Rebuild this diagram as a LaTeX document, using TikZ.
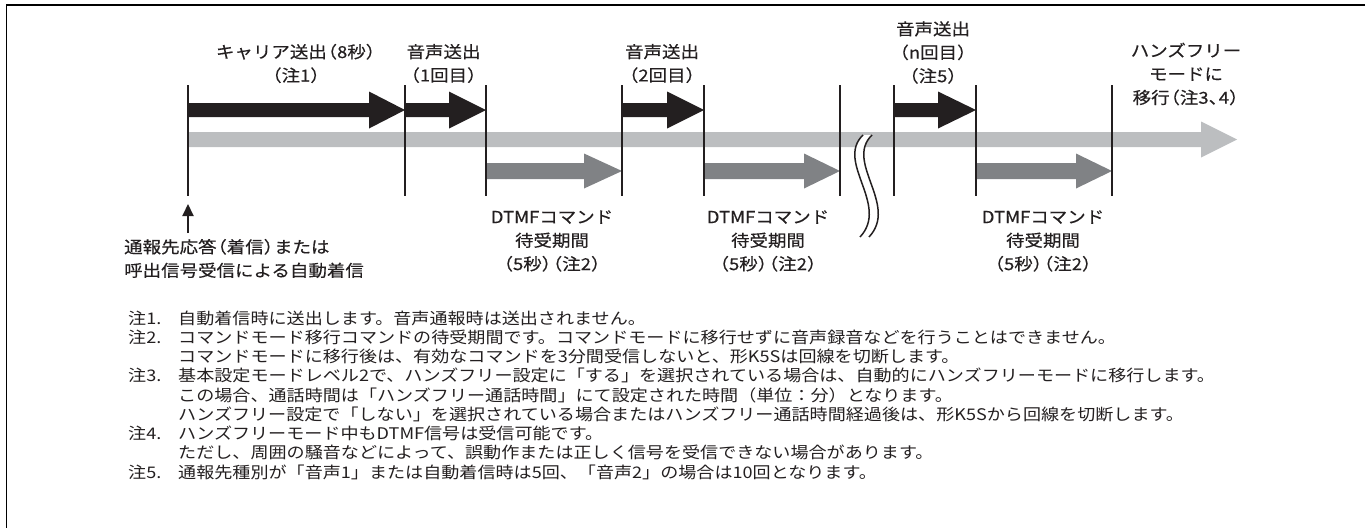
\documentclass[tikz,border=0pt]{standalone}
\usepackage{fontspec}
\setmainfont{Noto Sans CJK JP}
\newfontfamily\lblfont[FakeStretch=1.12,FakeBold=0.4]{Noto Sans CJK JP}
\newfontfamily\notefont[FakeStretch=1.13]{Noto Sans CJK JP}
\usetikzlibrary{arrows.meta}
\definecolor{barblack}{HTML}{231F20}
\definecolor{barlight}{HTML}{BCBEC0}
\definecolor{bardark}{HTML}{808285}
\newcommand\lp{\kern-.5em（}
\newcommand\rp{）\kern-.5em}
% fat arrow: x1 x2 yc shafthalf headhalf headlen colour
\newcommand\fatarrow[7]{%
  \fill[#7] (#1,#3-#4) -- (#2-#6,#3-#4) -- (#2-#6,#3-#5) -- (#2,#3)
     -- (#2-#6,#3+#5) -- (#2-#6,#3+#4) -- (#1,#3+#4) -- cycle;}
\tikzset{
  lbl/.style={font=\lblfont\fontsize{16.5}{23.5}\selectfont, align=center, inner sep=0pt, text=barblack},
  lblleft/.style={font=\lblfont\fontsize{16.5}{23.5}\selectfont, align=left, inner sep=0pt, anchor=west, text=barblack},
  note/.style={font=\notefont\fontsize{16}{19.25}\selectfont, inner sep=0pt, anchor=west, text height=13pt, text depth=3pt, text=barblack},
  tick/.style={draw=barblack, line width=2pt},
  frame/.style={draw=black, line width=1.8pt},
  wave/.style={draw=barblack, line width=1.5pt},
}
\begin{document}
\begin{tikzpicture}[x=1pt,y=-1pt]
\useasboundingbox (0,0) rectangle (1367,528);
% frame (top and left only)
\coordinate (ftr) at (1365,5);
\coordinate (ftl) at (6.5,5);
\coordinate (fbl) at (6.5,528);
\draw[frame] (ftr) -- (ftl) -- (fbl);

% main light bar
\fatarrow{188}{1237}{139.5}{7.5}{18}{36}{barlight}
% black arrows (voice / carrier)
\fatarrow{188}{405}{110}{7}{18.5}{36}{barblack}
\fatarrow{405}{486}{110}{7}{18.5}{37}{barblack}
\fatarrow{622}{704}{110}{7}{18.5}{37}{barblack}
\fatarrow{894}{976}{110}{7}{18.5}{38}{barblack}
% DTMF arrows
\fatarrow{486}{622}{171}{8}{17.5}{38}{bardark}
\fatarrow{704}{840}{171}{8}{17.5}{36}{bardark}
\fatarrow{976}{1112}{171}{8}{17.5}{36}{bardark}

% break symbol
\fill[white] (863,135) .. controls (835,162) and (890,205) .. (860,237)
   -- (869,237) .. controls (899,205) and (844,162) .. (872,135) -- cycle;
\draw[wave] (863,135) .. controls (835,162) and (890,205) .. (860,237);
\draw[wave] (872,135) .. controls (844,162) and (899,205) .. (869,237);

% ticks
\foreach \x in {188,405,486,622,704,840,894,976,1112}{
  \draw[tick] (\x,85) -- (\x,196);
}

% start arrow
\coordinate (upb) at (188,233);
\coordinate (upt) at (188,204);
\draw[draw=barblack, line width=2pt, -{Triangle[length=12pt,width=11pt]}] (upb) -- (upt);

% labels
\node[lbl] (carrier) at (296,63.5) {キャリア送出\lp 8秒\rp\\\lp 注1\rp};
\node[lbl] (v1) at (443.5,63.5) {音声送出\\\lp 1回目\rp};
\node[lbl] (v2) at (662,63.5) {音声送出\\\lp 2回目\rp};
\node[lbl] (vn) at (933,52.5) {音声送出\\\lp n回目\rp\\\lp 注5\rp};
\node[lbl] (hf) at (1186,74) {ハンズフリー\\モードに\\移行\lp 注3、\kern-.5em 4\rp};
\node[lbl] (d1) at (552,241) {DTMFコマンド\\待受期間\\\lp 5秒\rp\lp 注2\rp};
\node[lbl] (d2) at (768,241) {DTMFコマンド\\待受期間\\\lp 5秒\rp\lp 注2\rp};
\node[lbl] (d3) at (1043,241) {DTMFコマンド\\待受期間\\\lp 5秒\rp\lp 注2\rp};
\node[lblleft] (start) at (124,258.5) {通報先応答\lp 着信\rp または\\呼出信号受信による自動着信};

% notes
\node[note] (n1) at (128,319) {注1.};
\node[note] (n1a) at (178,319) {自動着信時に送出します。音声通報時は送出されません。};
\node[note] (n2) at (128,338.25) {注2.};
\node[note] (n2a) at (178,338.25) {コマンドモード移行コマンドの待受期間です。コマンドモードに移行せずに音声録音などを行うことはできません。};
\node[note] (n2b) at (178,357.5) {コマンドモードに移行後は、有効なコマンドを3分間受信しないと、形K5Sは回線を切断します。};
\node[note] (n3) at (128,376.75) {注3.};
\node[note] (n3a) at (178,376.75) {基本設定モードレベル2で、ハンズフリー設定に「する」を選択されている場合は、自動的にハンズフリーモードに移行します。};
\node[note] (n3b) at (178,396) {この場合、通話時間は「ハンズフリー通話時間」にて設定された時間（単位：分）となります。};
\node[note] (n3c) at (178,415.25) {ハンズフリー設定で「しない」を選択されている場合またはハンズフリー通話時間経過後は、形K5Sから回線を切断します。};
\node[note] (n4) at (128,434.5) {注4.};
\node[note] (n4a) at (178,434.5) {ハンズフリーモード中もDTMF信号は受信可能です。};
\node[note] (n4b) at (178,453.75) {ただし、周囲の騒音などによって、誤動作または正しく信号を受信できない場合があります。};
\node[note] (n5) at (128,473) {注5.};
\node[note] (n5a) at (178,473) {通報先種別が「音声1」または自動着信時は5回、「音声2」の場合は10回となります。};
\end{tikzpicture}
\end{document}
